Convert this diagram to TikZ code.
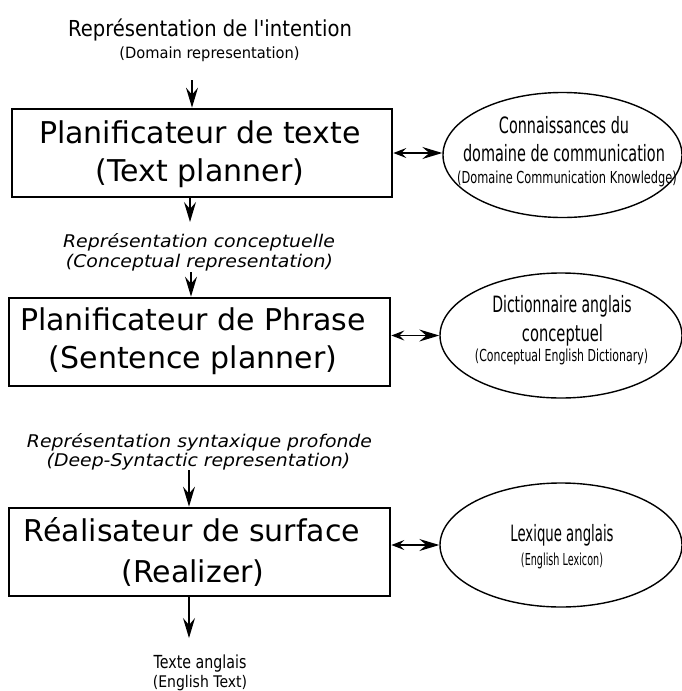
\documentclass[tikz,border=0pt]{standalone}
\usepackage{fontspec}
\usepackage{graphicx}
\setmainfont{DejaVu Sans}
\usetikzlibrary{arrows.meta,shapes.geometric}
\newcommand\sq[3]{\scalebox{#1}[1]{\fontsize{#2}{#2}\selectfont #3}}
\newcommand\bigtxt[1]{{\fontsize{30}{30}\selectfont #1}}
\newcommand\slt[2]{\scalebox{#1}[1]{\itshape\fontsize{17.5}{17.5}\selectfont #2}}
\begin{document}
\begin{tikzpicture}[x=1pt,y=-1pt,
  txt/.style={anchor=base,inner sep=0pt,outer sep=0pt},
  stepbox/.style={draw,line width=2.7pt,minimum width=380pt,minimum height=88pt,inner sep=0pt},
  ell/.style={draw,ellipse,line width=1.4pt,inner sep=0pt},
  arr/.style={line width=1.3pt,-{Stealth[length=20pt,width=12pt,inset=7pt]}},
  dbl/.style={line width=1.3pt,{Stealth[length=13pt,width=10pt,inset=5pt]}-{Stealth[length=20pt,width=12pt,inset=7pt]}}]
\useasboundingbox (0,0) rectangle (682,691);

% top input
\node[txt] (t1) at (210,36) {\sq{0.89}{22}{Représentation de l\textquotesingle intention}};
\node[txt] (t2) at (209.5,58) {\sq{0.945}{15.5}{(Domain representation)}};
\coordinate (a1) at (192,80);

% box 1
\node[stepbox] (b1) at (202,153) {};
\node[txt] (b1a) at (200,143) {\bigtxt{Planificateur de texte}};
\node[txt] (b1b) at (200,181) {\bigtxt{(Text planner)}};
\draw[arr] (a1) -- (a1 |- b1.north);

\coordinate (a2) at (190,222);
\draw[arr] (b1.south -| a2) -- (a2);

\node[txt] (c1) at (199,247) {\slt{1.08}{Représentation conceptuelle}};
\node[txt] (c2) at (199.5,267) {\slt{1.08}{(Conceptual representation)}};
\coordinate (a3) at (191,272);

% box 2
\node[stepbox,minimum width=381pt] (b2) at (199.5,342) {};
\node[txt] (b2a) at (193,330) {\bigtxt{Planificateur de Phrase}};
\node[txt] (b2b) at (193,368) {\bigtxt{(Sentence planner)}};
\draw[arr] (a3) -- (a3 |- b2.north);

\node[txt] (d1) at (199.5,447) {\slt{1.077}{Représentation syntaxique profonde}};
\node[txt] (d2) at (198.5,466) {\slt{1.077}{(Deep-Syntactic representation)}};
\coordinate (a5) at (189,470);

% box 3
\node[stepbox,minimum width=381pt] (b3) at (199.5,552) {};
\node[txt] (b3a) at (192,541) {\bigtxt{Réalisateur de surface}};
\node[txt] (b3b) at (193,582) {\bigtxt{(Realizer)}};
\draw[arr] (a5) -- (a5 |- b3.north);

\coordinate (a6) at (189,638);
\draw[arr] (b3.south -| a6) -- (a6);
\node[txt] (o1) at (200,668) {\sq{0.79}{18}{Texte anglais}};
\node[txt] (o2) at (200,687) {\sq{0.876}{16}{(English Text)}};

% ellipses
\node[ell,minimum width=239pt,minimum height=125pt] (e1) at (562.5,155) {};
\node[txt] (e1a) at (564,133) {\sq{0.64}{22.5}{Connaissances du}};
\node[txt] (e1b) at (564,161) {\sq{0.642}{22.5}{domaine de communication}};
\node[txt] (e1c) at (567,183) {\sq{0.69}{16.5}{(Domaine Communication Knowledge)}};
\draw[dbl] (b1.east) -- (b1.east -| e1.west);

\node[ell,minimum width=242pt,minimum height=125pt] (e2) at (561,335.5) {};
\node[txt] (e2a) at (562,312.5) {\sq{0.624}{22.5}{Dictionnaire anglais}};
\node[txt] (e2b) at (562.5,341.5) {\sq{0.653}{22.5}{conceptuel}};
\node[txt] (e2c) at (561.5,361.5) {\sq{0.663}{16.5}{(Conceptual English Dictionary)}};
\draw[dbl] (b2.east |- e2.west) -- (e2.west);

\node[ell,minimum width=242pt,minimum height=124pt] (e3) at (561,545) {};
\node[txt] (e3a) at (562,541.5) {\sq{0.59}{22.5}{Lexique anglais}};
\node[txt] (e3b) at (562,565) {\sq{0.584}{16.5}{(English Lexicon)}};
\draw[dbl] (b3.east |- e3.west) -- (e3.west);
\end{tikzpicture}
\end{document}
